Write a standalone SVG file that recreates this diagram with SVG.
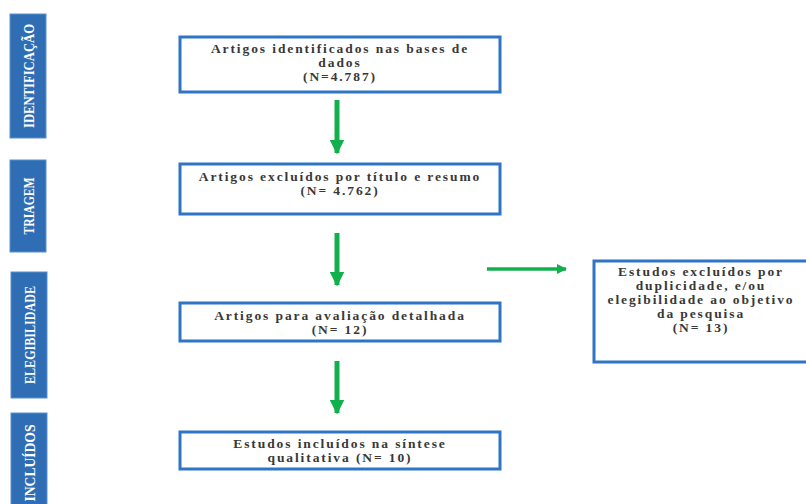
<svg xmlns="http://www.w3.org/2000/svg" width="806" height="504" viewBox="0 0 806 504">
<defs>
<style>
.stage{fill:#2f6eb5;stroke:#5b8fd0;stroke-width:1}
.stxt{fill:#fff;font-family:"Liberation Serif",serif;font-weight:bold;font-size:15px;text-anchor:middle}
.box{fill:#fff;stroke:#2e75c6;stroke-width:3}
.t{fill:#383838;font-family:"Liberation Serif",serif;font-weight:bold;font-size:13.5px;letter-spacing:1.9px;text-anchor:middle}
.arr{stroke:#12b04c;stroke-width:5;fill:none}
</style>
<marker id="ah" viewBox="0 0 10 10" refX="9" refY="5" markerWidth="3" markerHeight="3" orient="auto" markerUnits="strokeWidth">
<path d="M0,0 L10,5 L0,10 z" fill="#12b04c"/>
</marker>
</defs>
<rect width="806" height="504" fill="#fff"/>
<g id="stage-identificacao">
<rect class="stage" x="10" y="14" width="36" height="124"/>
<text class="stxt" transform="translate(33.5,76) rotate(-90)" textLength="104" lengthAdjust="spacingAndGlyphs">IDENTIFICAÇÃO</text>
</g>
<g id="stage-triagem">
<rect class="stage" x="10" y="160" width="36" height="92"/>
<text class="stxt" transform="translate(33.5,206) rotate(-90)" textLength="57" lengthAdjust="spacingAndGlyphs">TRIAGEM</text>
</g>
<g id="stage-elegibilidade">
<rect class="stage" x="11" y="272" width="36" height="126"/>
<text class="stxt" transform="translate(34.5,335) rotate(-90)" textLength="98" lengthAdjust="spacingAndGlyphs">ELEGIBILIDADE</text>
</g>
<g id="stage-incluidos">
<rect class="stage" x="11" y="413" width="36" height="95"/>
<text class="stxt" transform="translate(34.5,463) rotate(-90)" textLength="77" lengthAdjust="spacingAndGlyphs">INCLUÍDOS</text>
</g>
<g id="box-identificados">
<rect class="box" x="180" y="37" width="320" height="55"/>
<text class="t" x="340" y="53">Artigos identificados nas bases de</text>
<text class="t" x="340" y="67">dados</text>
<text class="t" x="340" y="81">(N=4.787)</text>
</g>
<g id="box-triagem">
<rect class="box" x="180" y="164" width="320" height="50"/>
<text class="t" x="340" y="181">Artigos excluídos por título e resumo</text>
<text class="t" x="340" y="195">(N= 4.762)</text>
</g>
<g id="box-avaliacao">
<rect class="box" x="180" y="303" width="320" height="38"/>
<text class="t" x="340" y="320">Artigos para avaliação detalhada</text>
<text class="t" x="340" y="334">(N= 12)</text>
</g>
<g id="box-incluidos">
<rect class="box" x="180" y="432" width="320" height="37"/>
<text class="t" x="340" y="448">Estudos incluídos na síntese</text>
<text class="t" x="340" y="462">qualitativa (N= 10)</text>
</g>
<g id="box-excluidos">
<rect class="box" x="594" y="261" width="216" height="101"/>
<text class="t" x="701" y="276">Estudos excluídos por</text>
<text class="t" x="701" y="290">duplicidade, e/ou</text>
<text class="t" x="701" y="304">elegibilidade ao objetivo</text>
<text class="t" x="701" y="318">da pesquisa</text>
<text class="t" x="701" y="332">(N= 13)</text>
</g>
<g id="connectors">
<line class="arr" x1="337" y1="100" x2="337" y2="153" marker-end="url(#ah)"/>
<line class="arr" x1="337" y1="233" x2="337" y2="285" marker-end="url(#ah)"/>
<line class="arr" x1="337" y1="361" x2="337" y2="413" marker-end="url(#ah)"/>
<line class="arr" x1="487" y1="269" x2="566" y2="269" marker-end="url(#ah)" style="stroke-width:3.5"/>
</g>
</svg>
